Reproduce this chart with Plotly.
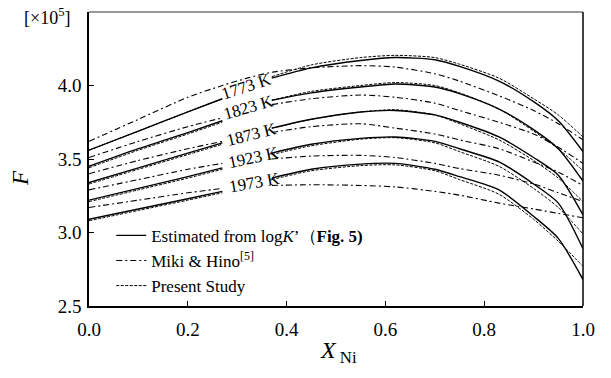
import plotly.graph_objects as go

FONT = "Liberation Serif"

temperatures = ["1773 K", "1823 K", "1873 K", "1923 K", "1973 K"]

# common composition grid (None in value lists = gap behind the temperature label)
x_grid = [0.0, 0.1, 0.2, 0.27, 0.32, 0.37, 0.45, 0.55, 0.62, 0.7, 0.75, 0.83, 0.9, 0.95, 1.0]

# Estimated from logK' (Fig. 5) -- solid
estimated = [
    [3.56, 3.69, 3.82, 3.91, None, 4.05, 4.12, 4.17, 4.19, 4.175, 4.13, 4.03, 3.89, 3.76, 3.55],
    [3.45, 3.57, 3.68, 3.76, None, 3.90, 3.95, 3.99, 4.01, 3.99, 3.945, 3.84, 3.70, 3.57, 3.35],
    [3.34, 3.44, 3.54, 3.61, None, 3.71, 3.77, 3.82, 3.83, 3.80, 3.75, 3.65, 3.51, 3.39, 3.12],
    [3.22, 3.30, 3.38, 3.44, None, 3.54, 3.60, 3.64, 3.65, 3.62, 3.57, 3.48, 3.33, 3.20, 2.89],
    [3.09, 3.16, 3.23, 3.28, None, 3.37, 3.43, 3.465, 3.47, 3.43, 3.38, 3.29, 3.11, 2.96, 2.68],
]

# Miki & Hino [5] -- dash-dot
miki_hino = [
    [3.62, 3.77, 3.92, 4.00, 4.05, 4.09, 4.12, 4.135, 4.125, 4.08, 4.03, 3.93, 3.83, 3.74, 3.63],
    [3.51, 3.62, 3.72, 3.78, None, 3.87, 3.91, 3.935, 3.92, 3.88, 3.83, 3.75, 3.67, 3.58, 3.47],
    [3.40, 3.49, 3.57, 3.62, None, 3.68, 3.72, 3.74, 3.71, 3.67, 3.63, 3.57, 3.48, 3.41, 3.32],
    [3.29, 3.36, 3.43, 3.47, None, 3.50, 3.52, 3.525, 3.51, 3.47, 3.435, 3.39, 3.33, 3.27, 3.21],
    [3.17, 3.22, 3.27, 3.30, None, 3.32, 3.325, 3.32, 3.31, 3.28, 3.254, 3.20, 3.16, 3.13, 3.10],
]

# Present Study -- dashed
present = [
    [3.56, 3.69, 3.82, 3.91, None, 4.06, 4.14, 4.19, 4.205, 4.19, 4.145, 4.05, 3.91, 3.80, 3.65],
    [3.44, 3.56, 3.67, 3.75, None, 3.90, 3.96, 4.00, 4.02, 4.00, 3.95, 3.84, 3.69, 3.57, 3.42],
    [3.33, 3.43, 3.53, 3.60, None, 3.71, 3.77, 3.82, 3.835, 3.80, 3.74, 3.63, 3.49, 3.37, 3.21],
    [3.21, 3.29, 3.37, 3.43, None, 3.53, 3.59, 3.635, 3.645, 3.61, 3.55, 3.45, 3.30, 3.17, 2.99],
    [3.08, 3.15, 3.22, 3.27, None, 3.36, 3.42, 3.455, 3.46, 3.42, 3.36, 3.26, 3.09, 2.94, 2.77],
]

# label anchor positions (x, F) and text angle
label_x = [0.319, 0.3225, 0.329, 0.333, 0.336]
label_y = [3.99, 3.85, 3.67, 3.51, 3.34]
label_angle = [-18, -16, -14, -12, -10]

x_ticks = [0.0, 0.2, 0.4, 0.6, 0.8, 1.0]
y_ticks = [2.5, 3.0, 3.5, 4.0]

series = [
    ("Estimated from log<i>K</i>’（<b>Fig. 5)</b>", estimated, "solid", 1.4),
    ("Miki &amp; Hino<sup>[5]</sup>", miki_hino, "6px,3px,2px,3px", 1.1),
    ("Present Study", present, "3px,1.5px", 1.0),
]

fig = go.Figure()
for name, data, dash, width in series:
    for i, vals in enumerate(data):
        fig.add_trace(go.Scatter(
            x=x_grid, y=vals, mode="lines", name=name,
            legendgroup=name, showlegend=(i == 0),
            line=dict(color="black", width=width, dash=dash, shape="spline", smoothing=0.7),
            connectgaps=False,
        ))

for t, lx, ly, ang in zip(temperatures, label_x, label_y, label_angle):
    fig.add_annotation(x=lx, y=ly, text=t, showarrow=False, textangle=ang,
                       font=dict(family=FONT, size=17, color="black"),
                       xanchor="center", yanchor="middle")

fig.add_annotation(xref="paper", yref="paper", x=-0.085, y=0.983, text="[×10<sup>5</sup>]",
                   xanchor="center", yanchor="middle",
                   showarrow=False, font=dict(family=FONT, size=18, color="black"))
fig.add_annotation(xref="paper", yref="paper", x=-0.14, y=0.435, text="<i>F</i>",
                   xanchor="center", yanchor="middle",
                   showarrow=False, textangle=-90, font=dict(family=FONT, size=23, color="black"))
fig.add_annotation(xref="paper", yref="paper", x=0.505, y=-0.156, text="<i>X</i><sub> Ni</sub>",
                   xanchor="center", yanchor="middle",
                   showarrow=False, font=dict(family=FONT, size=24, color="black"))

# frame: top grey, right black
fig.add_shape(type="line", xref="paper", yref="paper", x0=0, x1=1, y0=1, y1=1,
              line=dict(color="#777777", width=1.5))
fig.add_shape(type="line", xref="paper", yref="paper", x0=1, x1=1, y0=0, y1=1,
              line=dict(color="black", width=1.5))

fig.update_layout(
    width=611, height=378,
    margin=dict(l=89, r=28, t=12, b=72),
    paper_bgcolor="white", plot_bgcolor="white",
    font=dict(family=FONT, size=17, color="black"),
    showlegend=True,
    legend=dict(x=0.045, y=0.30, xanchor="left", yanchor="top",
                bgcolor="rgba(0,0,0,0)", font=dict(family=FONT, size=17),
                itemwidth=30, tracegroupgap=0),
    xaxis=dict(range=[0, 1], tickvals=x_ticks, ticktext=[f"{v:.1f}" for v in x_ticks],
               showgrid=False, zeroline=False, showline=True, linecolor="black", linewidth=1.5,
               ticks="inside", ticklen=5, tickcolor="black", ticklabelstandoff=5,
               tickfont=dict(family=FONT, size=19)),
    yaxis=dict(range=[2.5, 4.5], tickvals=y_ticks, ticktext=[f"{v:.1f}" for v in y_ticks],
               showgrid=False, zeroline=False, showline=True, linecolor="black", linewidth=1.5,
               ticks="inside", ticklen=5, tickcolor="black", ticklabelstandoff=2,
               tickfont=dict(family=FONT, size=19)),
)

fig.write_html("out.html")
